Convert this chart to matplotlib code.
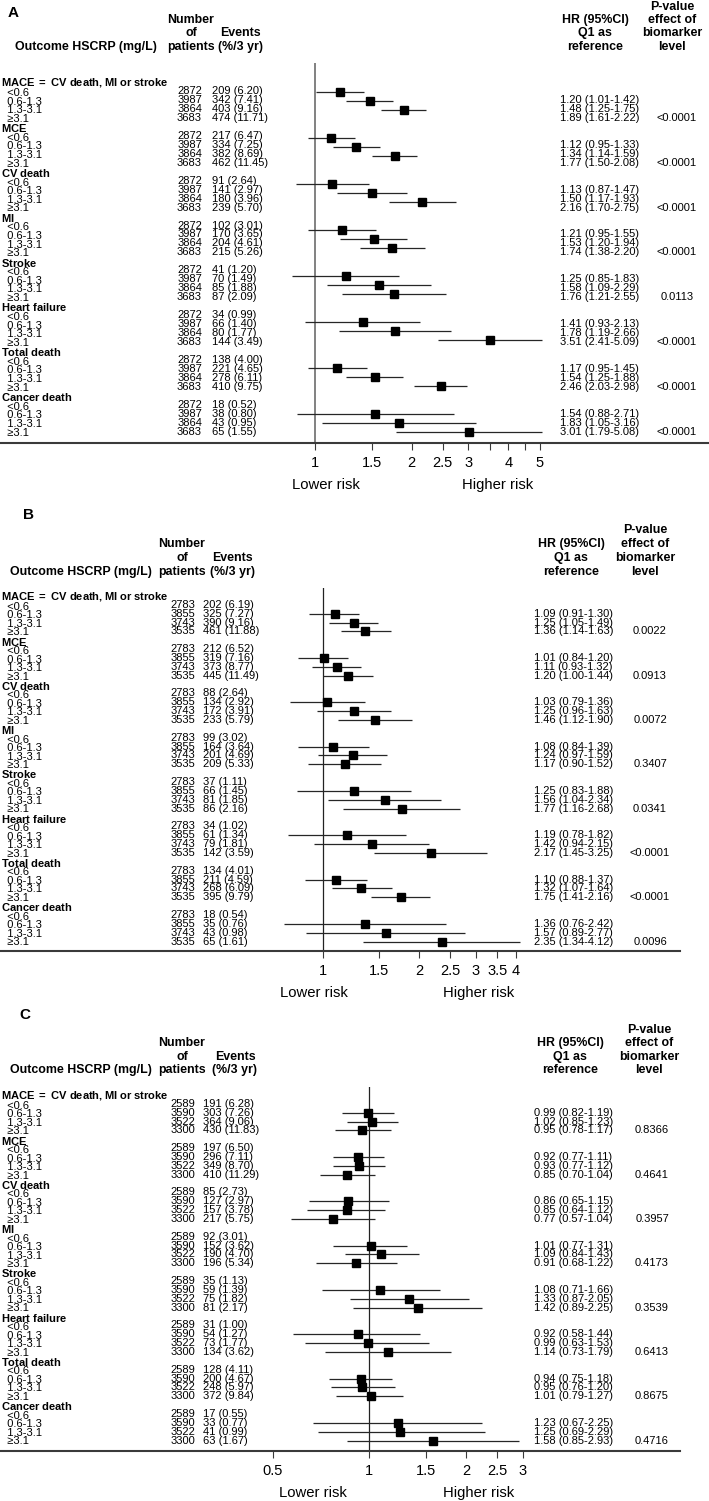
import numpy as np
import matplotlib
matplotlib.use('Agg')
import matplotlib.pyplot as plt
from matplotlib.ticker import FixedLocator, FixedFormatter, NullLocator

plt.rcParams['mathtext.fontset'] = 'custom'
plt.rcParams['mathtext.rm'] = 'Liberation Sans'
plt.rcParams['mathtext.bf'] = 'Liberation Sans:bold'

W, H = 709, 1501

outcomes = ['MACE = CV death, MI or stroke', 'MCE', 'CV death', 'MI', 'Stroke',
            'Heart failure', 'Total death', 'Cancer death']
levels = ['<0.6', '0.6-1.3', '1.3-3.1', '\u22653.1']

# ---- panel A
n_a = [2872, 3987, 3864, 3683]
ev_a = [[209, 342, 403, 474], [217, 334, 382, 462], [91, 141, 180, 239], [102, 170, 204, 215],
        [41, 70, 85, 87], [34, 66, 80, 144], [138, 221, 278, 410], [18, 38, 43, 65]]
pct_a = [[6.20, 7.41, 9.16, 11.71], [6.47, 7.25, 8.69, 11.45], [2.64, 2.97, 3.96, 5.70],
         [3.01, 3.65, 4.61, 5.26], [1.20, 1.49, 1.88, 2.09], [0.99, 1.40, 1.77, 3.49],
         [4.00, 4.65, 6.11, 9.75], [0.52, 0.80, 0.95, 1.55]]
hr_a = [[1.20, 1.48, 1.89], [1.12, 1.34, 1.77], [1.13, 1.50, 2.16], [1.21, 1.53, 1.74],
        [1.25, 1.58, 1.76], [1.41, 1.78, 3.51], [1.17, 1.54, 2.46], [1.54, 1.83, 3.01]]
lo_a = [[1.01, 1.25, 1.61], [0.95, 1.14, 1.50], [0.87, 1.17, 1.70], [0.95, 1.20, 1.38],
        [0.85, 1.09, 1.21], [0.93, 1.19, 2.41], [0.95, 1.25, 2.03], [0.88, 1.05, 1.79]]
hi_a = [[1.42, 1.75, 2.22], [1.33, 1.59, 2.08], [1.47, 1.93, 2.75], [1.55, 1.94, 2.20],
        [1.83, 2.29, 2.55], [2.13, 2.66, 5.09], [1.45, 1.88, 2.98], [2.71, 3.16, 5.08]]
p_a = ['<0.0001', '<0.0001', '<0.0001', '<0.0001', '0.0113', '<0.0001', '<0.0001', '<0.0001']
ticks_a = [1, 1.5, 2, 2.5, 3, 3.5, 4, 4.5, 5]
ticklab_a = ['1', '1.5', '2', '2.5', '3', '', '4', '', '5']

# ---- panel B
n_b = [2783, 3855, 3743, 3535]
ev_b = [[202, 325, 390, 461], [212, 319, 373, 445], [88, 134, 172, 233], [99, 164, 201, 209],
        [37, 66, 81, 86], [34, 61, 79, 142], [134, 211, 268, 395], [18, 35, 43, 65]]
pct_b = [[6.19, 7.27, 9.16, 11.88], [6.52, 7.16, 8.77, 11.49], [2.64, 2.92, 3.91, 5.79],
         [3.02, 3.64, 4.69, 5.33], [1.11, 1.45, 1.85, 2.16], [1.02, 1.34, 1.81, 3.59],
         [4.01, 4.59, 6.09, 9.79], [0.54, 0.76, 0.98, 1.61]]
hr_b = [[1.09, 1.25, 1.36], [1.01, 1.11, 1.20], [1.03, 1.25, 1.46], [1.08, 1.24, 1.17],
        [1.25, 1.56, 1.77], [1.19, 1.42, 2.17], [1.10, 1.32, 1.75], [1.36, 1.57, 2.35]]
lo_b = [[0.91, 1.05, 1.14], [0.84, 0.93, 1.00], [0.79, 0.96, 1.12], [0.84, 0.97, 0.90],
        [0.83, 1.04, 1.16], [0.78, 0.94, 1.45], [0.88, 1.07, 1.41], [0.76, 0.89, 1.34]]
hi_b = [[1.30, 1.49, 1.63], [1.20, 1.32, 1.44], [1.36, 1.63, 1.90], [1.39, 1.59, 1.52],
        [1.88, 2.34, 2.68], [1.82, 2.15, 3.25], [1.37, 1.64, 2.16], [2.42, 2.77, 4.12]]
p_b = ['0.0022', '0.0913', '0.0072', '0.3407', '0.0341', '<0.0001', '<0.0001', '0.0096']
ticks_b = [1, 1.5, 2, 2.5, 3, 3.5, 4]
ticklab_b = ['1', '1.5', '2', '2.5', '3', '3.5', '4']

# ---- panel C
n_c = [2589, 3590, 3522, 3300]
ev_c = [[191, 303, 364, 430], [197, 296, 349, 410], [85, 127, 157, 217], [92, 152, 190, 196],
        [35, 59, 75, 81], [31, 54, 73, 134], [128, 200, 248, 372], [17, 33, 41, 63]]
pct_c = [[6.28, 7.26, 9.06, 11.83], [6.50, 7.11, 8.70, 11.29], [2.73, 2.97, 3.78, 5.75],
         [3.01, 3.62, 4.70, 5.34], [1.13, 1.39, 1.82, 2.17], [1.00, 1.27, 1.77, 3.62],
         [4.11, 4.67, 5.97, 9.84], [0.55, 0.77, 0.99, 1.67]]
hr_c = [[0.99, 1.02, 0.95], [0.92, 0.93, 0.85], [0.86, 0.85, 0.77], [1.01, 1.09, 0.91],
        [1.08, 1.33, 1.42], [0.92, 0.99, 1.14], [0.94, 0.95, 1.01], [1.23, 1.25, 1.58]]
lo_c = [[0.82, 0.85, 0.78], [0.77, 0.77, 0.70], [0.65, 0.64, 0.57], [0.77, 0.84, 0.68],
        [0.71, 0.87, 0.89], [0.58, 0.63, 0.73], [0.75, 0.76, 0.79], [0.67, 0.69, 0.85]]
hi_c = [[1.19, 1.23, 1.17], [1.11, 1.12, 1.04], [1.15, 1.12, 1.04], [1.31, 1.43, 1.22],
        [1.66, 2.05, 2.25], [1.44, 1.53, 1.79], [1.18, 1.20, 1.27], [2.25, 2.29, 2.93]]
p_c = ['0.8366', '0.4641', '0.3957', '0.4173', '0.3539', '0.6413', '0.8675', '0.4716']
ticks_c = [0.5, 1, 1.5, 2, 2.5, 3]
ticklab_c = ['0.5', '1', '1.5', '2', '2.5', '3']

FONT = ['Liberation Sans', 'DejaVu Sans']
FS_ROW = 8.0
FS_HEAD = 8.9
K = 139.5  # px per ln unit

fig = plt.figure(figsize=(W / 100, H / 100), dpi=100)
ov = fig.add_axes([0, 0, 1, 1])
ov.set_xlim(0, W)
ov.set_ylim(H, 0)
ov.axis('off')
renderer = fig.canvas.get_renderer()


def line_h(s, **kw):
    t = ov.text(0, 0, s if s else 'lp', **kw)
    h = t.get_window_extent(renderer).height
    t.remove()
    return h


def block(x, y_first, dy, lines, **kw):
    # one multi-line text whose line centres fall dy pixels apart
    n = len(lines)
    t = ov.text(x, y_first + (n - 1) * dy / 2, '\n'.join(lines), va='center', **kw)
    t.set_linespacing(1.0)
    h1 = t.get_window_extent(renderer).height
    t.set_linespacing(0.5)
    h05 = t.get_window_extent(renderer).height
    b = (h1 - h05) / 0.5
    a = h1 - b
    target = (n - 1) * dy + (line_h(lines[0], **kw) + line_h(lines[-1], **kw)) / 2
    t.set_linespacing((target - a) / b)
    return t


def bold_math(s):
    s = s.replace(', ', ',').replace(' ', r'\;')
    return r'$\mathbf{' + s + '}$'


panels = [
    dict(letter='A', lxy=(13, 13), n=n_a, ev=ev_a, pct=pct_a, hr=hr_a, lo=lo_a, hi=hi_a, p=p_a,
         ticks=ticks_a, tlab=ticklab_a, x1=315, top=63, bot=442.7, R=709,
         ty0=82, tdy=8.97, my0=73.3, mdy=9.2, vcol='#777777', vlw=1.3,
         nx=202, evx=212, hrx=560, px=677,
         hx=[157, 191, 240, 595, 672], hy=[7, 20, 33, 47], risk=(326, 498, 485)),
    dict(letter='B', lxy=(29, 515), n=n_b, ev=ev_b, pct=pct_b, hr=hr_b, lo=lo_b, hi=hi_b, p=p_b,
         ticks=ticks_b, tlab=ticklab_b, x1=322.6, top=587.7, bot=950.7, R=680,
         ty0=596, tdy=8.86, my0=596, mdy=8.86, vcol='#222222', vlw=0.9,
         nx=195, evx=203, hrx=534, px=650,
         hx=[152, 182, 232, 571, 645], hy=[530, 544, 558, 572], risk=(314, 479, 993)),
    dict(letter='C', lxy=(25, 1015), n=n_c, ev=ev_c, pct=pct_c, hr=hr_c, lo=lo_c, hi=hi_c, p=p_c,
         ticks=ticks_c, tlab=ticklab_c, x1=369.3, top=1087, bot=1451, R=680,
         ty0=1095, tdy=8.86, my0=1095, mdy=8.86, vcol='#222222', vlw=0.9,
         nx=195, evx=203, hrx=534, px=652,
         hx=[152, 182, 235, 570, 649], hy=[1030, 1043, 1057, 1070], risk=(313, 479, 1493)),
]

for P in panels:
    ov.text(P['lxy'][0], P['lxy'][1], P['letter'], family=FONT, weight='bold', fontsize=11,
            ha='center', va='center')
    # column headers
    hx, hy = P['hx'], P['hy']
    hd = dict(family=FONT, weight='bold', fontsize=FS_HEAD, va='center')
    ov.text(hx[0], hy[3], 'Outcome HSCRP (mg/L)', ha='right', **hd)
    for txt, yy in zip(['Number', 'of', 'patients'], hy[1:]):
        ov.text(hx[1], yy, txt, ha='center', **hd)
    for txt, yy in zip(['Events', '(%/3 yr)'], hy[2:]):
        ov.text(hx[2], yy, txt, ha='center', **hd)
    for txt, yy in zip(['HR (95%CI)', 'Q1 as', 'reference'], hy[1:]):
        ov.text(hx[3], yy, txt, ha='center', **hd)
    for txt, yy in zip(['P-value', 'effect of', 'biomarker', 'level'], hy):
        ov.text(hx[4], yy, txt, ha='center', **hd)

    rw = dict(family=FONT, fontsize=FS_ROW)
    ty0, tdy = P['ty0'], P['tdy']

    # outcome / level labels: one block for the whole panel
    lab_lines = []
    for name in outcomes:
        lab_lines.append(bold_math(name))
        lab_lines += ['  ' + lv for lv in levels]
    block(1, ty0, tdy, lab_lines, **rw)

    for g in range(8):
        y1 = ty0 + (g * 5 + 1) * tdy
        block(P['nx'], y1, tdy, [str(v) for v in P['n']], ha='right', **rw)
        block(P['evx'], y1, tdy, ['%d (%.2f)' % (e, c) for e, c in zip(P['ev'][g], P['pct'][g])],
              **rw)
        block(P['hrx'], y1 + tdy, tdy,
              ['%.2f (%.2f-%.2f)' % t for t in zip(P['hr'][g], P['lo'][g], P['hi'][g])], **rw)
        ov.text(P['px'], ty0 + (g * 5 + 4) * tdy, P['p'][g], ha='center', va='center', **rw)

    # forest axes, y data = figure pixels
    ax = fig.add_axes([0, 1 - P['bot'] / H, P['R'] / W, (P['bot'] - P['top']) / H])
    ax.set_facecolor('none')
    ax.set_xscale('log')
    ax.set_xlim(np.exp(-P['x1'] / K), np.exp((P['R'] - P['x1']) / K))
    ax.set_ylim(P['bot'], P['top'])
    for s in ['top', 'left', 'right']:
        ax.spines[s].set_visible(False)
    ax.spines['bottom'].set_linewidth(1.5)
    ax.spines['bottom'].set_color('#3a3a3a')
    ax.set_yticks([])
    ax.xaxis.set_major_locator(FixedLocator(P['ticks']))
    ax.xaxis.set_major_formatter(FixedFormatter(P['tlab']))
    ax.xaxis.set_minor_locator(NullLocator())
    ax.tick_params(axis='x', direction='out', length=5, width=0.8, color='#3a3a3a', pad=4.5,
                   labelsize=10.5)
    for lab in ax.get_xticklabels():
        lab.set_family(FONT)
    ax.axvline(1, color=P['vcol'], lw=P['vlw'], zorder=1)

    hr = np.array(P['hr'])
    lo = np.array(P['lo'])
    hi = np.array(P['hi'])
    rows = np.array([[g * 5 + q for q in (2, 3, 4)] for g in range(8)])
    ym = P['my0'] + rows * P['mdy']
    ax.hlines(ym.ravel(), lo.ravel(), hi.ravel(), color='#262626', lw=0.9, zorder=2)
    ax.plot(hr.ravel(), ym.ravel(), 's', ms=6.3, color='black', zorder=3, clip_on=False)

    xl, xh, yr = P['risk']
    ov.text(xl, yr, 'Lower risk', family=FONT, fontsize=10.7, ha='center', va='center')
    ov.text(xh, yr, 'Higher risk', family=FONT, fontsize=10.7, ha='center', va='center')

fig.savefig('out.png', dpi=100)
